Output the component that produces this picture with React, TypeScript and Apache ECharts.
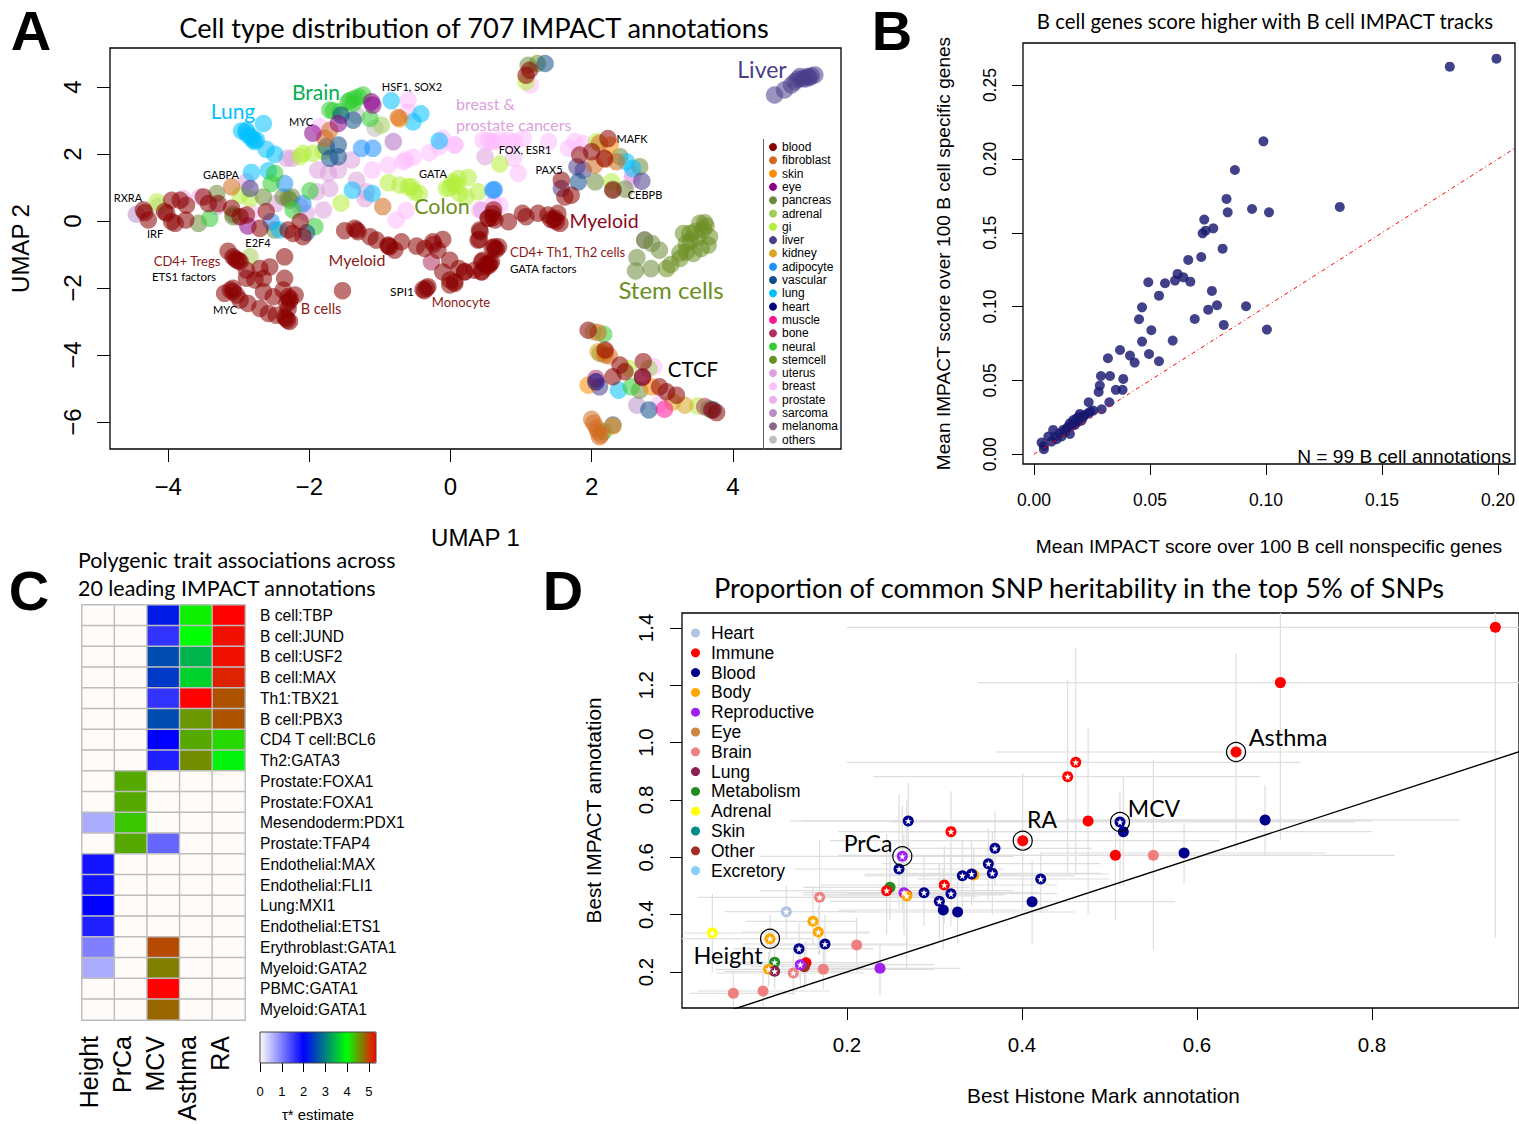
import React, { useEffect, useRef } from "react";
import * as echarts from "echarts";

const SANS = '"Liberation Sans"';
const CAL = "Lato";

// ---------- Panel A: UMAP coordinates by tissue ----------
const blood = [[-4.33,.25],[-4.28,.03],[-4.35,.33],[-4.02,.23],[-3.95,.62],[-3.83,.62],[-3.74,.47],[-3.75,.03],[-3.95,-.02],[-3.9,-.07],[-4.05,.28],[-3.5,.72],[-3.43,.52],[-3.29,.52],[-3.1,.38],[-2.98,.13],[-2.89,.18],[-2.7,-.22],[-2.61,.28],[-2.3,-.27],[-2.13,-.02],[-2.09,-.47],[-2.23,-.37],[-3.15,-.9],[-3.08,-1.07],[-3.03,-1.17],[-2.98,-1.22],[-2.89,-1.47],[-2.7,-1.42],[-2.56,-1.37],[-2.89,-1.71],[-2.77,-1.76],[-2.65,-1.71],[-2.35,-1.07],[-2.35,-1.71],[-1.53,-2.08],[-3.2,-2.16],[-3.08,-2.01],[-3.08,-2.11],[-3.03,-2.21],[-2.98,-2.36],[-2.87,-2.46],[-2.7,-2.61],[-2.65,-2.11],[-2.51,-2.26],[-2.37,-2.06],[-2.2,-2.21],[-2.3,-2.26],[-2.32,-2.46],[-2.47,-2.81],[-2.35,-2.86],[-2.28,-3.0],[-2.33,-2.9],[-2.58,-2.76],[-1.5,-.29],[-1.36,-.22],[-1.31,-.32],[-1.14,-.47],[-1.05,-.57],[-.885,-.72],[-.79,-.87],[-.695,-.62],[-.86,-.77],[-.48,-.75],[-.365,-.82],[-.25,-.62],[-.11,-.55],[-.18,-.87],[-.01,-1.17],[-.11,-1.52],[.2,-1.52],[.06,-1.81],[-.01,-1.91],[.34,-1.47],[.44,-1.52],[.53,-1.27],[.62,-.77],[.46,-1.17],[.41,-.27],[.39,-.57],[.53,.08],[-.39,-2.04],[-.34,-2.01],[-.32,-1.96],[-.37,-2.08],[.61,.33],[.63,.03],[.82,-.02],[.42,-.32],[.41,-.55],[.54,.08],[1.02,.23],[1.07,.13],[1.24,.23],[1.38,.18],[1.46,.03],[1.5,-.02],[1.55,-.07],[1.52,.23],[.63,-.82],[.68,-.77],[.56,-1.27],[.51,-1.37],[.44,-1.51],[.2,-1.51],[.06,-1.86],[-.01,-1.76],[.58,-1.22],[.44,-1.22],[1.07,4.35],[1.12,4.5],[2.23,2.46],[2.0,2.07],[1.83,1.97],[1.71,.77],[1.62,.72],[1.57,1.22],[2.3,.92],[2.18,1.87],[1.95,-3.26],[2.19,-3.85],[2.4,-4.3],[2.47,-4.5],[2.3,-4.65],[2.73,-4.2],[2.96,-4.95],[3.06,-5.1],[3.2,-5.2],[3.77,-5.72],[3.7,-5.64],[2.72,-4.67],[-3.05,-1.12],[-3.0,-1.18],[-3.12,-2.06],[-2.3,-2.62],[-2.28,-2.4],[-2.31,-2.96],[-2.27,-2.32],[.12,-1.42],[.5,-1.3],[.55,-1.32],[.59,-.8],[.65,-.85],[1.42,.05],[1.48,.08],[.6,.1],[.6,.22],[-1.33,-.27],[-.88,-.75],[-.24,-.7]];
const fibroblast = [[2.11,2.32],[2.04,1.67],[2.19,1.84],[2.35,1.77],[2.09,-3.33],[2.25,-4.03],[2.0,-5.92],[2.03,-6.04],[2.09,-6.29],[2.11,-6.44],[-1.71,2.71],[-1.78,2.47],[-.74,3.09],[-3.1,1.02],[-.96,.43],[2.07,-6.18],[2.13,-6.38],[2.19,-4.0]];
const skin = [[2.26,2.27],[2.19,-3.9],[1.95,-4.9],[2.85,-4.95],[2.3,-6.12],[-.72,3.05]];
const eye = [[-1.12,3.56],[-1.1,3.46],[-1.95,2.62],[-2.87,-.15],[-1.59,2.91],[2.72,-4.65]];
const pancreas = [[-2.65,.72],[-3.31,.82],[-3.08,.13],[-2.25,.72],[-2.28,.62],[-3.57,-.07],[-2.49,-.27],[-2.37,.72],[1.1,4.65],[2.4,1.92],[2.05,1.17],[2.3,.95],[2.47,.95],[2.68,1.62],[2.96,-.87],[2.85,-.67],[2.75,-.57],[2.64,-1.09],[2.62,-1.49],[2.84,-1.42],[2.68,-5.05],[-3.08,.2],[-2.3,.68],[2.12,-3.95]];
const adrenal = [[2.02,-3.3],[2.81,-4.4],[-.98,2.86],[-2.84,-1.07]];
const gi = [[-.88,1.14],[-.72,1.07],[-.6,1.02],[-.51,.87],[-.55,1.02],[-.44,.82],[-.06,.97],[.03,1.17],[.11,1.27],[.25,1.3],[.39,.87],[.22,.72],[.13,.82],[-.01,.99],[.05,1.08],[.09,1.05],[-2.13,1.92],[-1.95,2.02],[-2.09,2.02],[-1.8,2.08],[-1.55,.53],[-2.98,.77],[-2.84,.67],[-4.16,.57],[.7,1.7],[1.07,4.16],[2.07,2.37],[2.28,1.17],[2.52,-4.4],[3.5,-5.52]];
const liver = [[4.59,3.76],[4.73,3.91],[4.83,4.06],[4.92,4.23],[4.99,4.26],[5.06,4.31],[5.16,4.36],[4.95,4.31],[5.11,4.33],[4.88,4.16],[5.02,4.24],[5.08,4.28],[-2.84,.97],[1.79,1.62],[1.88,1.52],[1.57,.97],[2.71,1.19],[2.11,-4.95]];
const kidney = [[2.09,-3.9],[3.15,-5.4],[3.32,-5.5]];
const adipocyte = [[-1.26,2.17],[-1.1,2.17],[-2.35,1.12],[-2.54,-.02],[.6,.92],[-2.09,.52],[.62,.94]];
const vascular = [[-1.59,2.27],[-1.76,2.22],[-1.71,1.87],[-1.59,1.92],[-1.55,3.16],[-1.38,3.01],[-2.04,-.35],[1.81,1.17],[2.81,-5.64],[3.72,-5.64],[2.3,-6.09],[1.34,4.7]];
const lung = [[-2.65,2.91],[-2.96,2.69],[-2.89,2.71],[-2.82,2.51],[-2.77,2.37],[-2.61,2.14],[-2.49,1.99],[-2.82,1.45],[-2.58,1.5],[-1.39,.92],[-1.11,.82],[-.84,3.59],[-.53,2.96],[-.16,2.39],[-2.42,-.27],[-2.9,2.66],[-2.87,2.56],[-2.8,2.42],[-2.75,2.42],[2.49,1.77],[2.58,1.57],[2.38,-5.05],[-.42,3.2]];
const heart = [[2.06,-4.8]];
const muscle = [[3.03,-5.62]];
const bone = [[-.27,-1.22],[2.06,-4.7],[3.6,-5.54]];
const neural = [[-1.24,3.76],[-1.36,3.66],[-1.45,3.56],[-1.38,3.51],[-1.66,3.29],[-1.57,3.26],[-1.71,3.31],[-1.14,3.06],[-1.99,.9],[-2.49,1.42],[-2.54,1.12],[-2.23,.33],[-3.41,.08],[-1.92,-.17],[2.17,-3.38],[2.56,-4.95],[3.66,-5.6],[2.17,-6.29],[-1.3,3.7],[-1.42,3.6]];
const stemcell = [[3.6,-.05],[3.53,-.07],[3.46,-.32],[3.39,-.37],[3.3,-.37],[3.34,-.67],[3.67,-.47],[3.65,-.72],[3.55,-.82],[3.44,-.97],[3.34,-.92],[3.25,-1.12],[3.06,-1.42],[3.5,-.5],[3.58,-.25],[1.23,4.7],[3.62,-.15],[3.4,-.6],[3.25,-.95],[3.12,-1.3]];
const uterus = [[-2.25,1.87],[-1.88,1.52],[-1.73,1.42],[-1.59,1.52],[-1.4,1.82],[-1.33,1.22],[-1.21,.67],[-1.19,.87],[-2.32,1.87],[-1.9,.87],[-1.71,.97],[-1.8,.33],[-2.13,.43],[-2.04,.23],[-2.47,.52],[-2.89,1.17],[-3.03,.13],[-3.31,.43],[.49,1.92],[2.58,1.37],[.44,.33]];
const breast = [[-1.11,1.52],[-.88,1.67],[-.67,1.77],[-.53,1.9],[-.63,1.82],[-.3,2.04],[-.16,2.22],[.06,2.27],[-.11,2.47],[-.6,3.61],[-.6,3.26],[-1.85,2.81],[-.77,.03],[-.63,.31],[-2.82,.23],[.58,2.37],[.46,2.41],[.7,2.41],[.41,.33],[.54,2.41],[.61,2.37],[.82,2.41],[.91,2.37],[1.03,2.46],[.96,1.42],[.06,2.27],[.89,1.87],[1.39,2.37],[1.76,2.37],[1.67,2.17],[1.88,2.31],[1.13,4.06],[.61,.52],[.7,.47],[2.88,-4.35],[2.96,-5.45]];
const prostate = [[-3.55,.72],[-3.79,.67],[-.81,2.37],[2.57,1.22]];
const sarcoma = [[-4.45,.2],[2.64,-5.5],[-.81,2.37]];
const melanoma = [[2.75,-.57]];
const others = [[-1.33,3.16],[-4.14,.43],[-1.07,2.77]];

const tissueNames = ["blood","fibroblast","skin","eye","pancreas","adrenal","gi","liver","kidney","adipocyte","vascular","lung","heart","muscle","bone","neural","stemcell","uterus","breast","prostate","sarcoma","melanoma","others"];
const tissueColors = ["#8b0000","#d2691e","#ff8c00","#8b008b","#6e8b3d","#a2cd5a","#b3ee3a","#483d8b","#daa520","#1e90ff","#104e8b","#00bfff","#000080","#ff1493","#b03060","#32cd32","#6b8e23","#dda0dd","#ffbbff","#eeaeee","#ba8fc8","#8b668b","#bebebe"];
const tissueData = [blood,fibroblast,skin,eye,pancreas,adrenal,gi,liver,kidney,adipocyte,vascular,lung,heart,muscle,bone,neural,stemcell,uterus,breast,prostate,sarcoma,melanoma,others];
const drawOrder = [22,18,19,17,20,21,6,5,4,16,9,11,15,7,10,8,2,1,13,14,3,0,12];
const umapXTicks = [-4,-2,0,2,4];
const umapYTicks = [-6,-4,-2,0,2,4];

// ---------- Panel B ----------
const bcellPoints = [[.1993,.2679],[.1792,.2625],[.0989,.2119],[.0866,.1925],[.083,.1729],[.0835,.1638],[.094,.1661],[.1013,.1638],[.1318,.1675],[.0734,.1589],[.0727,.1496],[.074,.1514],[.0773,.153],[.0813,.1392],[.0721,.1336],[.0665,.1316],[.0619,.1221],[.0608,.1176],[.0644,.1198],[.0674,.1169],[.0565,.1158],[.0493,.1165],[.0539,.1074],[.0767,.1106],[.0789,.1009],[.0751,.0979],[.0914,.1002],[.0693,.0916],[.0466,.0995],[.0453,.0914],[.0506,.084],[.0818,.0876],[.1004,.0844],[.0466,.0763],[.0598,.077],[.0371,.0706],[.0414,.0668],[.0319,.065],[.0496,.0679],[.0434,.0621],[.0539,.063],[.0289,.053],[.0328,.053],[.0385,.051],[.0284,.0465],[.0279,.0422],[.0353,.0436],[.0382,.0436],[.0236,.0352],[.0325,.0352],[.0292,.0305],[.0198,.0273],[.0256,.0296],[.0234,.0278],[.0213,.0255],[.0205,.0228],[.0184,.0244],[.017,.0232],[.0155,.021],[.0177,.0199],[.0141,.0176],[.0126,.0165],[.0155,.0138],[.0083,.0165],[.0119,.012],[.0098,.0102],[.0062,.012],[.0076,.0086],[.0033,.0079],[.0043,.0056],[.0043,.0034],[.022,.0266],[.0191,.0221],[.0162,.0192],[.0148,.0187],[.0134,.0153],[.0112,.0142],[.0091,.012],[.017,.021],[.0195,.0255],[.0244,.0289]];
const identityLine = [[0,0],[.22,.22]];
const bXTicks = [0,.05,.1,.15,.2];
const bYTicks = [0,.05,.1,.15,.2,.25];

// ---------- Panel C ----------
const traits = ["Height","PrCa","MCV","Asthma","RA"];
const annotations = ["B cell:TBP","B cell:JUND","B cell:USF2","B cell:MAX","Th1:TBX21","B cell:PBX3","CD4 T cell:BCL6","Th2:GATA3","Prostate:FOXA1","Prostate:FOXA1","Mesendoderm:PDX1","Prostate:TFAP4","Endothelial:MAX","Endothelial:FLI1","Lung:MXI1","Endothelial:ETS1","Erythroblast:GATA1","Myeloid:GATA2","PBMC:GATA1","Myeloid:GATA1"];
const heightTau = [0,0,0,0,0,0,0,0,0,0,.65,0,1.85,1.85,2,1.75,1,.65,0,0];
const prcaTau = [0,0,0,0,0,0,0,0,4.45,4.45,4.3,4.45,0,0,0,0,0,0,0,0];
const mcvTau = [2.2,1.6,2.6,2.45,1.6,2.6,2,1.75,0,0,0,1.2,0,0,0,0,4.95,4.67,5.33,4.8];
const asthmaTau = [4.08,4,3.4,3.65,5.33,4.55,4.45,4.6,0,0,0,0,0,0,0,0,0,0,0,0];
const raTau = [5.33,5.25,5.25,5.15,4.9,4.9,4.2,3.9,0,0,0,0,0,0,0,0,0,0,0,0];
const tauColumns = [heightTau,prcaTau,mcvTau,asthmaTau,raTau];
const tauStops = ["#fffbf8","#aaaaff","#5555ff","#0000ff","#0055aa","#00aa55","#00ff00","#808000","#ff0000"];

// ---------- Panel D: x, y, star, xLow, xHigh, yLow, yHigh ----------
const dHeart = [[.1306,.4104,1,.06,.21,.32,.50]];
const dImmune = [[.941,1.4022,0,.2,1.0,.32,1.46],[.6953,1.2092,0,.35,1.0,.66,1.46],[.6446,.9673,0,.37,.948,.625,1.311],[.4614,.9313,1,.2,.718,.538,1.329],[.4522,.8813,1,.23,.672,.544,1.22],[.4755,.7267,0,.15,.8,.402,1.052],[.4008,.658,0,.18,.626,.42,.893],[.5067,.6069,0,.19,.826,.38,.72],[.3188,.6895,1,.19,.45,.55,.83],[.3112,.5034,1,.17,.44,.37,.64],[.2453,.4837,1,.1,.39,.33,.68],[.2682,.4686,0,.15,.38,.25,.75],[.1531,.2325,0,.07,.24,.16,.31]];
const dBlood = [[.5120,.7232,1,.25,.78,.50,.83],[.5158,.6894,0,.23,.8,.50,.88],[.6778,.7302,0,.45,.9,.608,.852],[.5852,.615,0,.42,.748,.51,.72],[.4214,.5243,1,.28,.5,.405,.614],[.4115,.4453,0,.28,.575,.30,.59],[.27,.7267,1,.135,.4,.60,.86],[.2594,.5592,1,.14,.38,.42,.82],[.288,.4767,1,.16,.42,.36,.60],[.3055,.4465,1,.18,.44,.31,.58],[.3188,.4732,1,.2,.44,.36,.60],[.3318,.536,1,.22,.46,.42,.66],[.3424,.5418,1,.22,.5,.43,.66],[.3691,.6313,1,.26,.48,.50,.76],[.3615,.5778,1,.24,.49,.45,.70],[.3661,.5441,1,.25,.49,.40,.69],[.31,.4162,0,.19,.43,.28,.56],[.3264,.4092,0,.2,.46,.30,.52],[.1748,.2976,1,.08,.27,.2,.4],[.1451,.2813,1,.07,.23,.18,.37]];
const dBody = [[.1611,.3767,1,.085,.21,.29,.50],[.1672,.3395,1,.08,.226,.26,.43],[.112,.3162,1,.01,.16,.24,.40],[.1104,.2092,1,.05,.17,.15,.27],[.2682,.465,1,.16,.35,.21,.80],[.3449,.5383,0,.27,.4,.45,.63]];
const dReproductive = [[.2632,.6034,1,.1,.39,.42,.78],[.2651,.4767,1,.15,.36,.33,.68],[.1466,.2255,1,.07,.3,.15,.3],[.2377,.2127,0,.14,.33,.12,.30]];
const dEye: number[][] = [];
const dBrain = [[.5501,.6069,0,.36,.735,.277,.94],[.1687,.4604,1,.03,.3,.26,.66],[.211,.2941,0,.1,.3,.2,.39],[.1729,.2092,0,.08,.3,.14,.3],[.1386,.1964,1,.05,.22,.12,.28],[.104,.1337,0,.03,.18,.08,.2],[.0701,.1255,0,.02,.14,.08,.2]];
const dLung = [[.1173,.2023,1,.06,.2,.14,.27]];
const dMetabolism = [[.2491,.4953,0,.15,.34,.38,.66],[.1173,.2336,1,.06,.19,.17,.30]];
const dAdrenal = [[.0461,.336,1,.012,.226,.197,.475]];
const dSkin: number[][] = [];
const dOther = [[.1512,.2185,0,.09,.22,.14,.3]];
const dExcretory: number[][] = [];
const dNames = ["Heart","Immune","Blood","Body","Reproductive","Eye","Brain","Lung","Metabolism","Adrenal","Skin","Other","Excretory"];
const dColors = ["#b0c4de","#ff0000","#00008b","#ffa500","#a020f0","#cd853f","#f08080","#8b2252","#228b22","#ffff00","#008b8b","#a52a2a","#87cefa"];
const dData = [dHeart,dImmune,dBlood,dBody,dReproductive,dEye,dBrain,dLung,dMetabolism,dAdrenal,dSkin,dOther,dExcretory];
const dOrder = [0,9,10,5,12,6,8,1,11,4,3,7,2];
const circled = [[.112,.3162],[.2632,.6034],[.4008,.658],[.5120,.7232],[.6446,.9673]];
const dIdentity = [[0,0],[1.1,1.1]];
const dXTicks = [.2,.4,.6,.8];
const dYTicks = [.2,.4,.6,.8,1,1.2,1.4];
const STAR = "path://M50,0 L62,35 L98,35 L69,57 L80,92 L50,71 L20,92 L31,57 L2,35 L38,35 Z";

const txt = (text: string, x: number, y: number, size: number, fill = "#000", align = "center", family = CAL, weight = "normal") => ({
  type: "text", x, y, silent: true, z: 50,
  style: { text, fill, align, verticalAlign: "middle", font: `${weight} ${size}px ${family}` },
});

const annotations2 = [
  txt("A", 31, 30, 56, "#000", "center", SANS, "bold"),
  txt("B", 892, 30, 56, "#000", "center", SANS, "bold"),
  txt("C", 29, 590, 56, "#000", "center", SANS, "bold"),
  txt("D", 563, 590, 56, "#000", "center", SANS, "bold"),
  txt("Cell type distribution of 707 IMPACT annotations", 474, 27, 27.2),
  txt("B cell genes score higher with B cell IMPACT tracks", 1265, 21, 20.4),
  txt("Polygenic trait associations across", 78, 560, 21.4, "#000", "left"),
  txt("20 leading IMPACT annotations", 78, 588, 21.4, "#000", "left"),
  txt("Proportion of common SNP heritability in the top 5% of SNPs", 1079, 587, 27.2),
  txt("N = 99 B cell annotations", 1511, 456, 19.2, "#000", "right", SANS),
  txt("Lung", 233, 110, 21, "#00bfff"),
  txt("Brain", 316, 91, 21, "#00b050"),
  txt("HSF1, SOX2", 412, 86, 11),
  txt("MYC", 301, 121, 11),
  txt("breast &", 456, 103, 16, "#dda0dd", "left"),
  txt("prostate cancers", 456, 124, 16, "#dda0dd", "left"),
  txt("FOX, ESR1", 525, 149, 11),
  txt("MAFK", 632, 138, 11),
  txt("PAX5", 549, 169, 11),
  txt("CEBPB", 645, 194, 11),
  txt("GATA", 433, 173, 11),
  txt("GABPA", 221, 174, 11),
  txt("RXRA", 128, 197, 11),
  txt("Colon", 442, 206, 21.5, "#6b8e23"),
  txt("IRF", 155, 233, 11),
  txt("E2F4", 258, 242, 11),
  txt("Myeloid", 604, 220, 19.5, "#8b0a1a"),
  txt("CD4+ Th1, Th2 cells", 510, 252, 13, "#8b1a1a", "left"),
  txt("GATA factors", 510, 268, 11.5, "#000", "left"),
  txt("Myeloid", 357, 259, 16, "#8b1a1a"),
  txt("CD4+ Tregs", 187, 261, 13, "#8b1a1a"),
  txt("ETS1 factors", 184, 276, 11.5),
  txt("Stem cells", 671, 289, 24, "#6b8e23"),
  txt("SPI1", 402, 291, 12),
  txt("Monocyte", 461, 302, 13, "#8b1a1a"),
  txt("MYC", 225, 309, 11),
  txt("B cells", 321, 308, 14.5, "#8b1a1a"),
  txt("CTCF", 693, 369, 20.5),
  txt("Liver", 762, 69, 23, "#483d8b"),
  txt("Asthma", 1288, 737, 23.5),
  txt("RA", 1042, 819, 23),
  txt("MCV", 1154, 808, 23),
  txt("PrCa", 868, 843, 23),
  txt("Height", 728, 955, 23.5),
  { type: "line", silent: true, z: 50, shape: { x1: 763.5, y1: 139, x2: 763.5, y2: 449 }, style: { stroke: "#666", lineWidth: 1 } },
];

const valueAxis = (gridIndex: number, min: number, max: number, ticks: number[], o: any) => ({
  type: "value", gridIndex, min, max, splitLine: { show: false }, axisLine: { show: false, onZero: false },
  nameLocation: "middle", nameGap: o.nameGap, name: o.name,
  nameTextStyle: { fontFamily: SANS, fontSize: o.nameSize, color: "#000", ...(o.namePad ? { padding: o.namePad } : {}) },
  axisTick: { show: true, customValues: ticks, length: o.tick, lineStyle: { color: "#000", width: 1 } },
  axisLabel: { show: true, customValues: ticks, rotate: o.rotate || 0, margin: o.margin, hideOverlap: false, color: "#000", fontFamily: SANS, fontSize: o.size, formatter: o.format },
});

const minusFmt = (v: number) => String(v).replace("-", "\u2212");

const option: any = {
  animation: false,
  backgroundColor: "#fff",
  graphic: annotations2,
  grid: [
    { left: 110, top: 48, width: 731, height: 401, show: true, borderColor: "#000", borderWidth: 1.3, backgroundColor: "transparent" },
    { left: 1023, top: 43, width: 492, height: 421, show: true, borderColor: "#000", borderWidth: 1.3, backgroundColor: "transparent" },
    { left: 82, top: 605, width: 163, height: 415 },
    { left: 682, top: 613, width: 837, height: 395, show: true, borderColor: "#000", borderWidth: 1.3, backgroundColor: "transparent" },
    { left: 260, top: 1032, width: 116, height: 31, show: true, z: 6, borderColor: "#444", borderWidth: 1, backgroundColor: "transparent" },
    { left: 73, top: 605, width: 163, height: 415 },
  ],
  xAxis: [
    valueAxis(0, -4.823, 5.531, umapXTicks, { name: "UMAP 1", nameGap: 76, nameSize: 24, tick: 13, margin: 25, size: 24, format: minusFmt }),
    valueAxis(1, -.0047, .2073, bXTicks, { name: "Mean IMPACT score over 100 B cell nonspecific genes", nameGap: 73, nameSize: 19.15, tick: 11, margin: 27, size: 17.5, format: (v: number) => v.toFixed(2) }),
    { type: "category", gridIndex: 2, data: traits, axisLine: { show: false }, axisTick: { show: false }, splitLine: { show: false }, axisLabel: { show: false } },
    valueAxis(3, .0114, .968, dXTicks, { name: "Best Histone Mark annotation", nameGap: 77, nameSize: 20.8, namePad: [0, 0, 0, 6], tick: 12, margin: 26, size: 20.5, format: (v: number) => v.toFixed(1) }),
    valueAxis(4, 0, 5.333, [0,1,2,3,4,5], { name: "\u03c4* estimate", nameGap: 44, nameSize: 14.9, tick: 9, margin: 22, size: 13, format: (v: number) => String(v) }),
    { type: "category", gridIndex: 5, data: traits, axisLine: { show: false }, axisTick: { show: false }, splitLine: { show: false }, axisLabel: { rotate: 90, margin: 16, interval: 0, color: "#000", fontFamily: SANS, fontSize: 25 } },
  ],
  yAxis: [
    valueAxis(0, -6.806, 5.164, umapYTicks, { name: "UMAP 2", nameGap: 78, nameSize: 24, tick: 13, margin: 26, size: 24, rotate: 90, format: minusFmt }),
    valueAxis(1, -.0066, .2785, bYTicks, { name: "Mean IMPACT score over 100 B cell specific genes", nameGap: 70, nameSize: 19.1, tick: 11, margin: 24, size: 17.5, rotate: 90, format: (v: number) => v.toFixed(2) }),
    { type: "category", gridIndex: 2, data: annotations, inverse: true, position: "right", axisLine: { show: false }, axisTick: { show: false }, splitLine: { show: false }, axisLabel: { margin: 15, interval: 0, color: "#000", fontFamily: SANS, fontSize: 15.6 } },
    valueAxis(3, .0744, 1.452, dYTicks, { name: "Best IMPACT annotation", nameGap: 78, nameSize: 20.7, tick: 12, margin: 26, size: 20.5, rotate: 90, format: (v: number) => v.toFixed(1) }),
    { type: "value", gridIndex: 4, min: 0, max: 1, show: false },
    { type: "value", gridIndex: 5, min: 0, max: 1, show: false },
  ],
  legend: [
    { show: true, orient: "vertical", left: 769, top: 140.5, padding: 0, itemWidth: 8, itemHeight: 8, itemGap: 0.3, selectedMode: false, icon: "circle", itemStyle: { opacity: 1 }, textStyle: { fontFamily: SANS, fontSize: 12, lineHeight: 13, color: "#000" }, data: tissueNames },
    { show: true, orient: "vertical", left: 691, top: 623.5, padding: 0, itemWidth: 21, itemHeight: 9, itemGap: 0.8, selectedMode: false, icon: "circle", itemStyle: { opacity: 1 }, textStyle: { fontFamily: SANS, fontSize: 17.5, lineHeight: 19, color: "#000" }, data: dNames },
  ],
  visualMap: [
    { type: "continuous", seriesIndex: 0, min: 0, max: 5.333, left: 260, top: 1032, padding: 0, z: 1, orient: "horizontal", itemWidth: 31, itemHeight: 116, calculable: false, hoverLink: false, realtime: false, text: null, showLabel: false, borderWidth: 0, inRange: { color: tauStops } },
  ],
  series: [
    {
      type: "heatmap", name: "tau", xAxisIndex: 2, yAxisIndex: 2, silent: true,
      data: tauColumns.flatMap((col, c) => col.map((v, r) => [c, r, v])),
      itemStyle: { borderColor: "#bdbdbd", borderWidth: 1.4 },
    },
    ...drawOrder.map((i) => ({
      type: "scatter", name: tissueNames[i], xAxisIndex: 0, yAxisIndex: 0, silent: true, symbolSize: 17.5,
      itemStyle: { color: tissueColors[i], opacity: 0.55 }, data: tissueData[i],
    })),
    {
      type: "scatter", name: "B cell", xAxisIndex: 1, yAxisIndex: 1, silent: true, symbolSize: 10,
      itemStyle: { color: "#191970", opacity: 0.82 }, data: bcellPoints,
    },
    {
      type: "line", name: "identity", xAxisIndex: 1, yAxisIndex: 1, silent: true, showSymbol: false, clip: true,
      lineStyle: { color: "#ff0000", width: 1, type: [4, 3, 1, 3] }, data: identityLine,
    },
    {
      type: "custom", name: "errors", xAxisIndex: 3, yAxisIndex: 3, silent: true, clip: true, z: 1,
      encode: { x: 0, y: 1 },
      data: dData.flat(),
      renderItem: (_p: any, api: any) => {
        const y = api.value(1), x = api.value(0);
        const a = api.coord([api.value(3), y]), b = api.coord([api.value(4), y]);
        const c = api.coord([x, api.value(5)]), d = api.coord([x, api.value(6)]);
        const style = { stroke: "#dedede", lineWidth: 1.2 };
        return {
          type: "group",
          children: [
            { type: "line", shape: { x1: a[0], y1: a[1], x2: b[0], y2: b[1] }, style },
            { type: "line", shape: { x1: c[0], y1: c[1], x2: d[0], y2: d[1] }, style },
          ],
        };
      },
    },
    {
      type: "line", name: "dIdentity", xAxisIndex: 3, yAxisIndex: 3, silent: true, showSymbol: false, clip: true, z: 3,
      lineStyle: { color: "#000", width: 1.4 }, data: dIdentity,
    },
    ...dOrder.map((i) => ({
      type: "scatter", name: dNames[i], xAxisIndex: 3, yAxisIndex: 3, silent: true, symbolSize: 11, z: 4,
      itemStyle: { color: dColors[i], opacity: 1 }, data: dData[i].map((p) => [p[0], p[1]]),
    })),
    {
      type: "scatter", name: "stars", xAxisIndex: 3, yAxisIndex: 3, silent: true, symbol: STAR, symbolSize: 7, z: 5,
      itemStyle: { color: "#fff", opacity: 1 }, data: dData.flat().filter((p) => p[2] === 1).map((p) => [p[0], p[1]]),
    },
    {
      type: "scatter", name: "circled", xAxisIndex: 3, yAxisIndex: 3, silent: true, symbolSize: 19, z: 6,
      itemStyle: { color: "transparent", borderColor: "#000", borderWidth: 1.2, opacity: 1 }, data: circled,
    },
  ],
};

export default function App() {
  const ref = useRef<HTMLDivElement>(null);
  useEffect(() => {
    document.body.style.margin = "0";
    const chart = echarts.init(ref.current!, null, { renderer: "svg" });
    chart.setOption(option);
    return () => chart.dispose();
  }, []);
  return <div ref={ref} style={{ position: "absolute", left: 0, top: 0, width: 1519, height: 1124 }} />;
}
